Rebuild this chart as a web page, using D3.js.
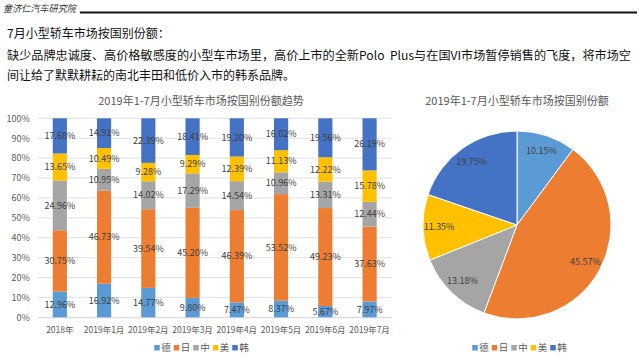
<!DOCTYPE html>
<html><head><meta charset="utf-8">
<script src="https://cdn.jsdelivr.net/npm/d3@7"></script>
<style>
body{margin:0;background:#fff;}
svg{display:block;font-family:"Noto Sans CJK SC","Noto Sans",sans-serif;}
</style></head>
<body><svg id="c" width="640" height="360"></svg>
<script>
const categories = ["2018年","2019年1月","2019年2月","2019年3月","2019年4月","2019年5月","2019年6月","2019年7月"];
const seriesNames = ["德","日","中","美","韩"];
const seriesColors = ["#5B9BD5","#ED7D31","#A5A5A5","#FFC000","#4472C4"];
const de  = [12.96,16.92,14.77,9.80,7.47,8.37,5.67,7.97];
const ri  = [30.75,46.73,39.54,45.20,46.39,53.52,49.23,37.63];
const zh  = [24.96,10.95,14.02,17.29,14.54,10.96,13.31,12.44];
const mei = [13.65,10.49,9.28,9.29,12.39,11.13,12.22,15.78];
const han = [17.68,14.91,22.39,18.41,19.20,16.02,19.56,26.19];
const pieValues = [10.15,45.57,13.18,11.35,19.75];
const yTicks = [0,10,20,30,40,50,60,70,80,90,100];
const barTitle = "2019年1-7月小型轿车市场按国别份额趋势";
const pieTitle = "2019年1-7月小型轿车市场按国别份额";

const svg = d3.select("#c");
// header
svg.append("text").attr("x",3).attr("y",12).attr("font-size",9.5).attr("font-style","italic")
  .attr("fill","#333").attr("textLength",73).attr("lengthAdjust","spacingAndGlyphs").text("童济仁汽车研究院");
svg.append("line").attr("x1",80).attr("x2",637).attr("y1",12.5).attr("y2",12.5)
  .attr("stroke","#111").attr("stroke-width",2);
const lines = ["7月小型轿车市场按国别份额：",
 "缺少品牌忠诚度、高价格敏感度的小型车市场里，高价上市的全新Polo  Plus与在国VI市场暂停销售的飞度，将市场空",
 "间让给了默默耕耘的南北丰田和低价入市的韩系品牌。"];
[38,59.5,80].forEach((y,i)=>{
  const t = svg.append("text").attr("x",7).attr("y",y).attr("font-size",12).attr("fill","#111")
   .attr("xml:space","preserve").style("white-space","pre").text(lines[i]);
  if(i===1) t.attr("textLength",624).attr("lengthAdjust","spacingAndGlyphs");
});

// bar chart
const x = d3.scaleBand().domain(categories).range([37.7,391.7]).paddingInner(0.68).paddingOuter(0.34);
const y = d3.scaleLinear().domain([0,100]).range([317.3,118.3]);
const g = svg.append("g");
g.selectAll(".grid").data(yTicks).join("line")
  .attr("x1",37.7).attr("x2",391.7).attr("y1",d=>y(d)).attr("y2",d=>y(d))
  .attr("stroke","#D9D9D9").attr("stroke-width",0.8);
const yAxis = d3.axisLeft(y).tickValues(yTicks).tickFormat(d=>d+"%").tickSize(0).tickPadding(8);
const ya = g.append("g").attr("transform","translate(37.7,0)").call(yAxis);
ya.select(".domain").remove();
ya.selectAll("text").attr("font-size",9).attr("fill","#595959").attr("font-family","'Noto Sans CJK SC',sans-serif");
const xAxis = d3.axisBottom(x).tickSize(0).tickPadding(10);
const xa = g.append("g").attr("transform","translate(0,317.3)").call(xAxis);
xa.select(".domain").attr("stroke","#D9D9D9");
xa.selectAll("text").attr("font-size",8.5).attr("fill","#595959").attr("font-family","'Noto Sans CJK SC',sans-serif");

const rows = categories.map((c,i)=>({cat:c,"德":de[i],"日":ri[i],"中":zh[i],"美":mei[i],"韩":han[i]}));
const stack = d3.stack().keys(seriesNames)(rows);
const color = d3.scaleOrdinal().domain(seriesNames).range(seriesColors);
stack.forEach(s=>{
  const sg = g.append("g");
  sg.selectAll("rect").data(s).join("rect")
    .attr("x",d=>x(d.data.cat)).attr("width",x.bandwidth())
    .attr("y",d=>y(d[1])).attr("height",d=>y(d[0])-y(d[1]))
    .attr("fill",color(s.key));
  sg.selectAll("text").data(s).join("text")
    .attr("x",d=>x(d.data.cat)+x.bandwidth()/2).attr("y",d=>(y(d[0])+y(d[1]))/2)
    .attr("dy","0.35em").attr("text-anchor","middle").attr("font-size",9).attr("fill","#404040")
    .text(d=>(d[1]-d[0]).toFixed(2)+"%");
});
g.append("text").attr("x",201).attr("y",105).attr("text-anchor","middle").attr("font-size",11)
  .attr("fill","#595959").text(barTitle);

function legend(cx, cy){
  const lg = svg.append("g");
  const item = 19.5;
  const start = cx - item*seriesNames.length/2;
  seriesNames.forEach((n,i)=>{
    lg.append("rect").attr("x",start+i*item).attr("y",cy-3).attr("width",5.5).attr("height",5.5).attr("fill",seriesColors[i]);
    lg.append("text").attr("x",start+i*item+7).attr("y",cy).attr("dy","0.35em").attr("font-size",9.5)
      .attr("fill","#595959").text(n);
  });
}
legend(203,348);

// pie
const cx=517, cy=225, r=94;
const pg = svg.append("g").attr("transform",`translate(${cx},${cy})`);
const pie = d3.pie().sort(null).value(d=>d)(pieValues);
const arc = d3.arc().innerRadius(0).outerRadius(r);
const larc = d3.arc().innerRadius(78).outerRadius(78);
pg.selectAll("path").data(pie).join("path").attr("d",arc)
  .attr("fill",(d,i)=>seriesColors[i]).attr("stroke","#fff").attr("stroke-width",1);
pg.selectAll("text").data(pie).join("text")
  .attr("transform",d=>`translate(${larc.centroid(d)})`).attr("dy","0.35em")
  .attr("text-anchor","middle").attr("font-size",9).attr("fill","#404040")
  .text(d=>d.data.toFixed(2)+"%");
svg.append("text").attr("x",517).attr("y",105).attr("text-anchor","middle").attr("font-size",11)
  .attr("fill","#595959").text(pieTitle);
legend(521,348);
</script></body></html>
